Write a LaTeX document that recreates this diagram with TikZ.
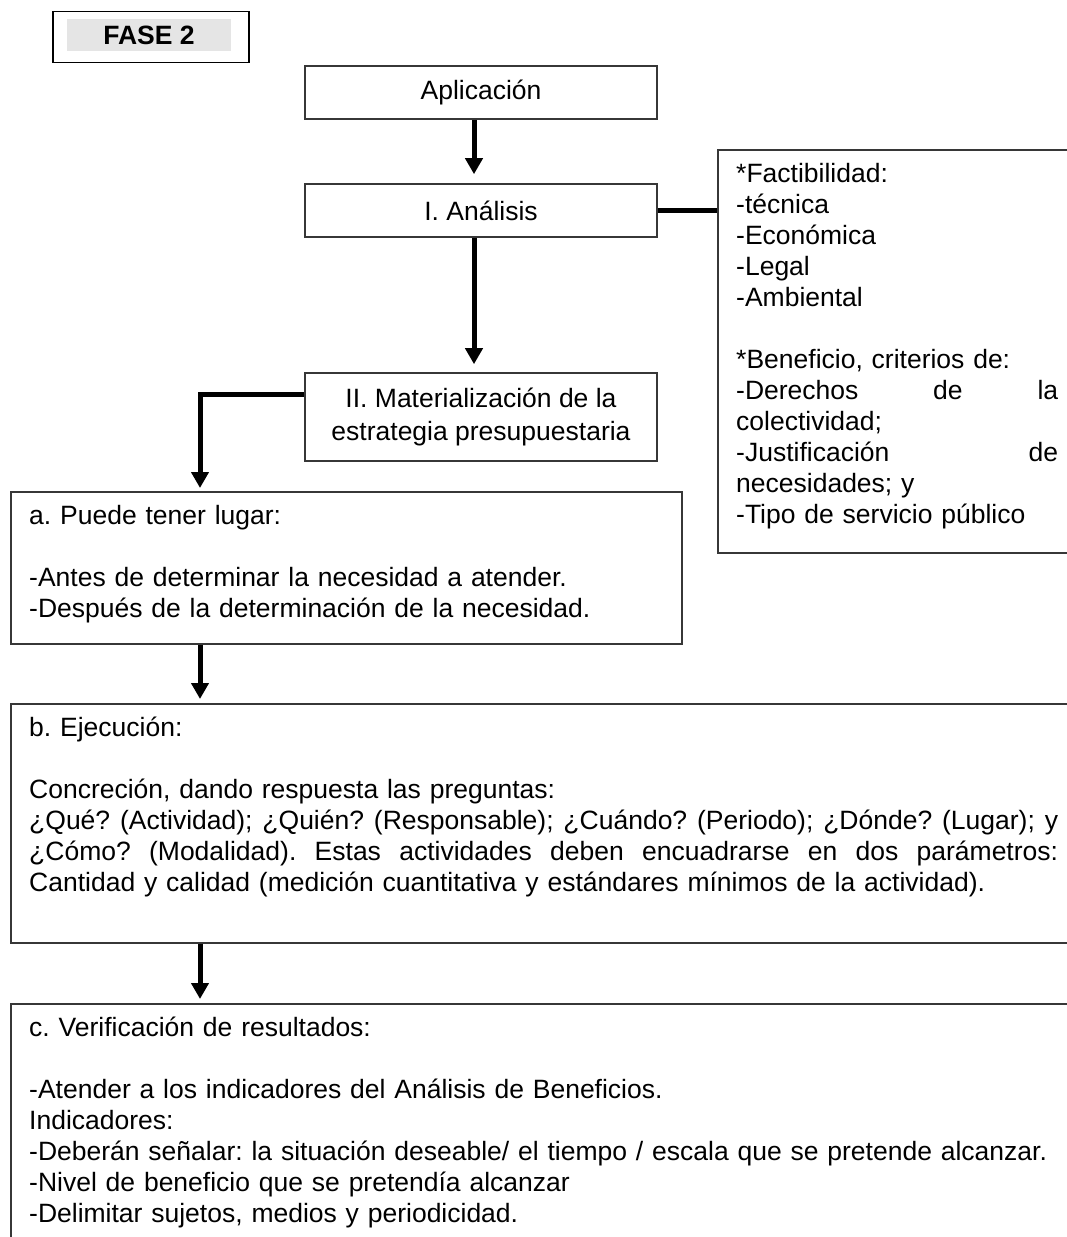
\documentclass[tikz,border=0pt]{standalone}
\usepackage{fontspec}
\setmainfont{Liberation Sans}
\usetikzlibrary{arrows.meta,calc}

\newcommand\bodyfont{\fontsize{26.5pt}{31pt}\selectfont}
\newcommand\pairfont{\fontsize{26.5pt}{33pt}\selectfont}
% a line set flush to both margins: every interword space stretches equally
\newcommand\fullline[2]{\leavevmode{\spaceskip=\fontdimen2\font plus 1fil minus 0.35\fontdimen2\font
  \xspaceskip=\spaceskip\hbox to #1{#2}}}
\definecolor{boxline}{RGB}{55,55,55}
\definecolor{tabgray}{RGB}{229,229,229}
\frenchspacing

\begin{document}
\begin{tikzpicture}[x=1pt,y=-1pt,
  box/.style={draw=boxline,line width=1.6pt,rectangle,inner sep=0pt},
  centerbox/.style={box,minimum width=352pt,font=\bodyfont,align=center},
  txt/.style={anchor=north west,inner sep=0pt,font=\bodyfont,align=left},
  link/.style={line width=5pt,black},
  arr/.style={link,-{Triangle[length=16pt,width=17pt]}}]

\useasboundingbox (0,0) rectangle (1067,1237);
\fill[white] (0,0) rectangle (1067,1237);
\clip (0,0) rectangle (1067,1237);

% phase label
\node[draw=black,line width=1.3pt,minimum width=196pt,minimum height=51pt,inner sep=0pt] (fase) at (151,37) {};
\node[fill=tabgray,minimum width=164pt,minimum height=32pt,inner sep=0pt,font=\bodyfont\bfseries] (fasetxt) at (149,35) {FASE 2};

% central column
\node[centerbox,minimum height=53pt] (apl) at (481,92.5) {Aplicación};
\node[centerbox,minimum height=53pt] (ana) at (481,210.5) {I. Análisis};
\node[centerbox,minimum height=88pt,font=\pairfont] (mat) at (481,417) {II. Materialización de la\\estrategia presupuestaria};

% feasibility / benefit box
\node[box,anchor=north west,minimum width=400pt,minimum height=403pt] (fact) at (717,149) {};
\node[txt,text width=330pt] (facttxt) at (736,160.3) {\strut*Factibilidad:\\
-técnica\\
-Económica\\
-Legal\\
-Ambiental\\[31pt]
*Beneficio, criterios de:\\
\fullline{322pt}{-Derechos de la}\\
colectividad;\\
\fullline{322pt}{-Justificación de}\\
necesidades; y\\
-Tipo de servicio público};

% step boxes
\node[box,anchor=north west,minimum width=671pt,minimum height=152pt] (boxa) at (10,491) {};
\node[txt,text width=640pt] (texta) at (29,502.3) {\strut a. Puede tener lugar:\\[31pt]
-Antes de determinar la necesidad a atender.\\
-Después de la determinación de la necesidad.};

\node[box,anchor=north west,minimum width=1080pt,minimum height=239pt] (boxb) at (10,703) {};
\node[txt,text width=1040pt] (textb) at (29,714.3) {\strut b. Ejecución:\\[31pt]
Concreción, dando respuesta las preguntas:\\
\fullline{1029pt}{¿Qué? (Actividad); ¿Quién? (Responsable); ¿Cuándo? (Periodo); ¿Dónde? (Lugar); y}\\
\fullline{1029pt}{¿Cómo? (Modalidad). Estas actividades deben encuadrarse en dos parámetros:}\\
Cantidad y calidad (medición cuantitativa y estándares mínimos de la actividad).};

\node[box,anchor=north west,minimum width=1080pt,minimum height=300pt] (boxc) at (10,1003) {};
\node[txt,text width=1040pt] (textc) at (29,1014.3) {\strut c. Verificación de resultados:\\[31pt]
-Atender a los indicadores del Análisis de Beneficios.\\
Indicadores:\\
-Deberán señalar: la situación deseable/ el tiempo / escala que se pretende alcanzar.\\
-Nivel de beneficio que se pretendía alcanzar\\
-Delimitar sujetos, medios y periodicidad.};

% connectors
\coordinate (cx) at (474,0);
\coordinate (bend) at (200,394);

\draw[arr,shorten >=9pt] (apl.south -| cx) -- (ana.north -| cx);
\draw[arr,shorten >=8pt] (ana.south -| cx) -- (mat.north -| cx);
\draw[link] (ana.east) -- (fact.west |- ana.east);
\draw[arr,shorten >=3pt] ([yshift=23pt]mat.west) -- (bend) -- (bend |- boxa.north);
\draw[arr,shorten >=4pt] (boxa.south -| bend) -- (boxb.north -| bend);
\draw[arr,shorten >=4pt] (boxb.south -| bend) -- (boxc.north -| bend);
\end{tikzpicture}
\end{document}
